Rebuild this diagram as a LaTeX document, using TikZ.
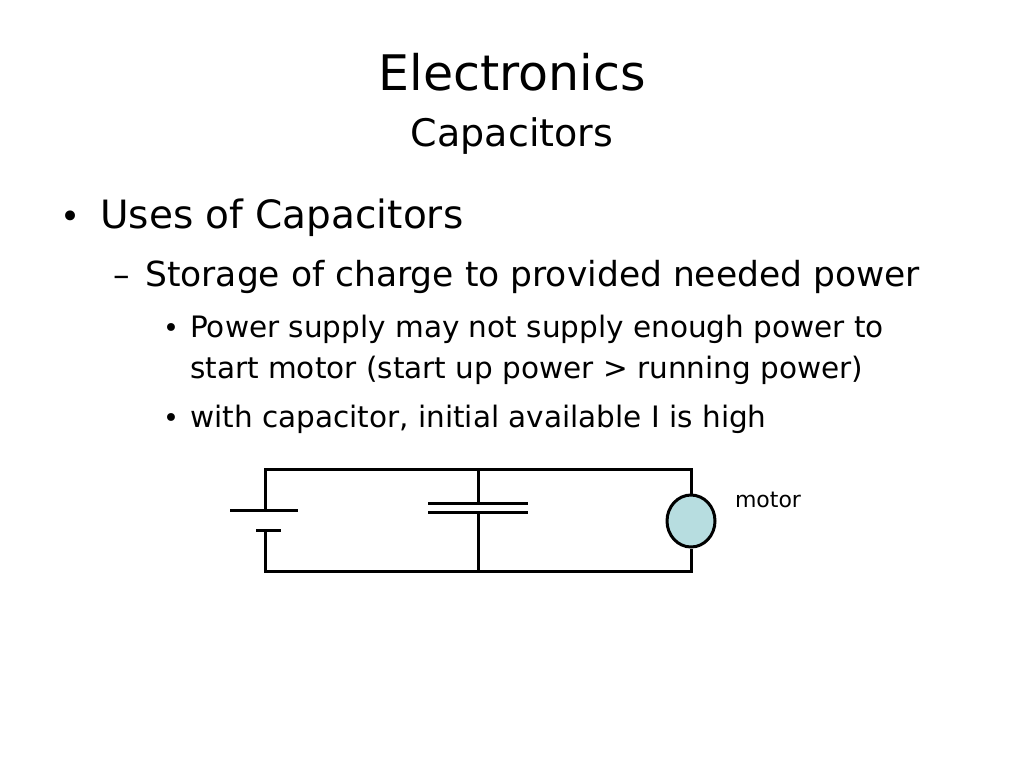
\documentclass[tikz,border=0pt]{standalone}
\usepackage{fontspec}
\usetikzlibrary{shapes.geometric}
\setmainfont{DejaVu Sans}
\definecolor{motorfill}{RGB}{183,221,224}
\begin{document}
\begin{tikzpicture}[x=1pt,y=-1pt,
 wire/.style={line width=3pt},
 txt/.style={anchor=base west,inner sep=0pt}]
\useasboundingbox (0,0) rectangle (1024,768);
\node (t1) at (512,90) [anchor=base,inner sep=0pt,font=\fontsize{49}{52}\selectfont] {Electronics};
\node (t2) at (512,146) [anchor=base,inner sep=0pt,font=\fontsize{38}{42}\selectfont] {Capacitors};
\node (b1) at (60,228) [txt,font=\fontsize{34}{36}\selectfont] {•};
\node (l1) at (100,228) [txt,font=\fontsize{39}{42}\selectfont] {Uses of Capacitors};
\node (b2) at (113,286) [txt,font=\fontsize{33}{34}\selectfont] {–};
\node (l2) at (145,286) [txt,font=\fontsize{34.5}{38}\selectfont] {Storage of charge to provided needed power};
\node (b3) at (163,337) [txt,font=\fontsize{27}{28}\selectfont] {•};
\node (l3) at (190,337) [txt,font=\fontsize{29.5}{32}\selectfont] {Power supply may not supply enough power to};
\node (l4) at (190,378) [txt,font=\fontsize{29.5}{32}\selectfont] {start motor (start up power > running power)};
\node (b4) at (163,427) [txt,font=\fontsize{27}{28}\selectfont] {•};
\node (l5) at (190,427) [txt,font=\fontsize{29.5}{32}\selectfont] {with capacitor, initial available I is high};
% circuit
\coordinate (tl) at (265,469); \coordinate (tr) at (691,469);
\coordinate (bl) at (265,571); \coordinate (br) at (691,571);
\coordinate (tc) at (478,469); \coordinate (bc) at (478,571);
\node (m) at (691,521) [draw,line width=3pt,fill=motorfill,ellipse,minimum width=48pt,minimum height=52pt,inner sep=0pt] {};
\node (ml) at (768,500) [font=\fontsize{22}{24}\selectfont] {motor};
\draw[wire] (265,510) -- (tl) -- (tr) -- (m.north);
\draw[wire] (265,530) -- (bl) -- (br) -- (m.south);
\draw[wire] (230,510) -- (298,510);
\draw[wire] (256,530) -- (281,530);
\draw[wire] (tc) -- (478,503); \draw[wire] (bc) -- (478,512);
\draw[wire] (428,503) -- (528,503);
\draw[wire] (428,512) -- (528,512);
\end{tikzpicture}
\end{document}
